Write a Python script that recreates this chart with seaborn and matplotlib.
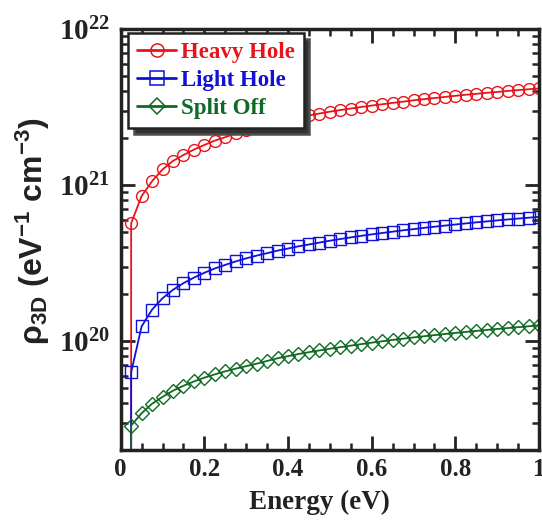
import numpy as np
import pandas as pd
import matplotlib
matplotlib.use("Agg")
import matplotlib.pyplot as plt
import seaborn as sns
from matplotlib.lines import Line2D
from matplotlib.ticker import MultipleLocator, LogLocator, NullFormatter

# ---------------- data ----------------
energy = [0.0, 0.025, 0.05, 0.075, 0.1, 0.125, 0.15, 0.175, 0.2, 0.225, 0.25,
          0.275, 0.3, 0.325, 0.35, 0.375, 0.4, 0.425, 0.45, 0.475, 0.5,
          0.525, 0.55, 0.575, 0.6, 0.625, 0.65, 0.675, 0.7, 0.725, 0.75,
          0.775, 0.8, 0.825, 0.85, 0.875, 0.9, 0.925, 0.95, 0.975, 1.0]

heavy_hole = [0, 5.7e20, 8.5e20, 1.06e21, 1.26e21, 1.43e21, 1.56e21, 1.69e21,
              1.81e21, 1.93e21, 2.03e21, 2.15e21, 2.26e21, 2.35e21, 2.44e21,
              2.53e21, 2.62e21, 2.71e21, 2.80e21, 2.88e21, 2.96e21, 3.03e21,
              3.10e21, 3.17e21, 3.24e21, 3.30e21, 3.37e21, 3.43e21, 3.50e21,
              3.56e21, 3.62e21, 3.68e21, 3.74e21, 3.80e21, 3.85e21, 3.91e21,
              3.96e21, 4.02e21, 4.07e21, 4.12e21, 4.17e21]

light_hole = [0, 6.3e19, 1.24e20, 1.59e20, 1.88e20, 2.13e20, 2.35e20, 2.55e20,
              2.74e20, 2.92e20, 3.08e20, 3.24e20, 3.39e20, 3.53e20, 3.66e20,
              3.80e20, 3.92e20, 4.05e20, 4.16e20, 4.28e20, 4.40e20, 4.51e20,
              4.62e20, 4.73e20, 4.83e20, 4.93e20, 5.03e20, 5.13e20, 5.22e20,
              5.32e20, 5.41e20, 5.50e20, 5.59e20, 5.68e20, 5.77e20, 5.85e20,
              5.94e20, 6.02e20, 6.10e20, 6.18e20, 6.26e20]

split_off = [0, 2.87e19, 3.44e19, 3.96e19, 4.38e19, 4.80e19, 5.16e19, 5.50e19,
             5.82e19, 6.11e19, 6.39e19, 6.65e19, 6.90e19, 7.15e19, 7.45e19,
             7.75e19, 8.00e19, 8.25e19, 8.48e19, 8.70e19, 8.92e19, 9.13e19,
             9.34e19, 9.55e19, 9.76e19, 9.96e19, 1.016e20, 1.035e20, 1.054e20,
             1.073e20, 1.091e20, 1.109e20, 1.127e20, 1.144e20, 1.161e20,
             1.178e20, 1.195e20, 1.211e20, 1.227e20, 1.243e20, 1.259e20]

series_names = ["Heavy Hole", "Light Hole", "Split Off"]
x_ticks = [0, 0.2, 0.4, 0.6, 0.8, 1]
x_tick_labels = ["0", "0.2", "0.4", "0.6", "0.8", "1"]

# ---------------- style ----------------
sns.set_style("ticks")
plt.rcParams["font.family"] = ["Liberation Serif", "DejaVu Serif"]
plt.rcParams["font.weight"] = "bold"
plt.rcParams["mathtext.fontset"] = "custom"
plt.rcParams["mathtext.rm"] = "Liberation Serif:bold"
plt.rcParams["mathtext.bf"] = "Liberation Serif:bold"
plt.rcParams["mathtext.it"] = "Liberation Serif:bold"
plt.rcParams["mathtext.sf"] = "Liberation Sans:bold"

colors = ["#e8141b", "#1010d8", "#0f6a24"]
markers = ["o", "s", "D"]
msizes = [8.5, 8.5, 7.0]

fig = plt.figure(figsize=(5.42, 5.22), dpi=100)
ax = fig.add_axes([0.2227, 0.138, 0.7718, 0.806])

df = pd.DataFrame({"energy": energy, series_names[0]: heavy_hole,
                   series_names[1]: light_hole, series_names[2]: split_off})

handles = []
for name, c, m, ms in zip(series_names, colors, markers, msizes):
    sns.lineplot(data=df, x="energy", y=name, ax=ax, color=c, lw=1.3,
                 marker=m, markersize=ms, markerfacecolor="none",
                 markeredgecolor=c, markeredgewidth=1.0,
                 markevery=slice(1, None), legend=False)
    handles.append(Line2D([], [], color=c, lw=2.0, marker=m, markersize=ms + 1,
                          markerfacecolor="none", markeredgecolor=c,
                          markeredgewidth=1.1, label=name))

ax.set_yscale("log", nonpositive="clip")
ax.set_xlim(0, 1)
ax.set_ylim(2e19, 1e22)
ax.set_xticks(x_ticks)
ax.set_xticklabels(x_tick_labels)
ax.xaxis.set_minor_locator(MultipleLocator(0.05))
ax.yaxis.set_major_locator(LogLocator(base=10, numticks=10))
ax.yaxis.set_minor_locator(LogLocator(base=10, subs=np.arange(2, 10), numticks=20))
ax.yaxis.set_minor_formatter(NullFormatter())

ax.tick_params(which="both", direction="in", top=True, right=True, width=2,
               color="#222222", labelcolor="#222222")
ax.tick_params(which="major", length=10, pad=6)
ax.tick_params(axis="x", which="major", labelsize=18)
ax.tick_params(axis="y", which="major", labelsize=21, pad=8)
ax.tick_params(which="minor", length=5, width=1.8)
for s in ax.spines.values():
    s.set_linewidth(2.5)
    s.set_color("#222222")

ax.set_xlabel("Energy (eV)", fontsize=19.5, fontweight="bold", color="#222222")
ax.xaxis.set_label_coords(0.476, -0.095)
ax.set_ylabel(r"$\mathsf{\rho_{3D}\ (eV^{-1}\ cm^{-3})}$", fontsize=23,
              color="#222222")
ax.yaxis.set_label_coords(-0.165, 0.52)

leg = ax.legend(handles=handles, loc="upper left", bbox_to_anchor=(0.0175, 0.9905),
                frameon=True, fancybox=False, fontsize=16.5, handlelength=1.7,
                handletextpad=0.2, borderpad=0.4, labelspacing=0.3,
                borderaxespad=0.0,
                shadow={"ox": 4, "oy": -4, "facecolor": "#333333", "alpha": 1})
leg.get_frame().set_edgecolor("#222222")
leg.get_frame().set_linewidth(1.8)
for t, c in zip(leg.get_texts(), colors):
    t.set_color(c)
    t.set_fontweight("bold")

fig.savefig("out.png", dpi=100)
